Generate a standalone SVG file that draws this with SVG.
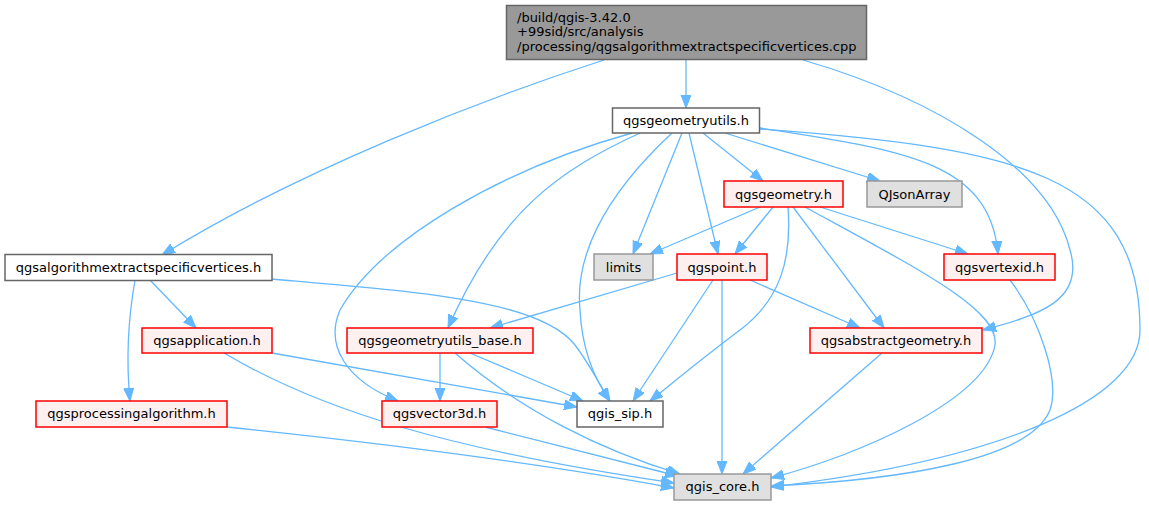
<svg xmlns="http://www.w3.org/2000/svg" width="1149" height="505" viewBox="0 0 1149 505">
<defs>
<marker id="ah" markerUnits="userSpaceOnUse" markerWidth="14" markerHeight="11" refX="13" refY="5" orient="auto">
<path d="M0,0 L13,5 L0,10 z" fill="#63b8ff" stroke="#63b8ff" stroke-width="1"/>
</marker>
<style>
text{font-family:"DejaVu Sans","Liberation Sans",sans-serif;font-size:13px;fill:#000}
.c text{text-anchor:middle}
.w rect{fill:#ffffff;stroke:#666666;stroke-width:1.5}
.r rect{fill:#fff0f0;stroke:#ff0000;stroke-width:1.5}
.g rect{fill:#e0e0e0;stroke:#999999;stroke-width:1.5}
.top rect{fill:#999999;stroke:#666666;stroke-width:1.5}
#edges path{fill:none;stroke:#63b8ff;stroke-width:1.3;marker-end:url(#ah)}
</style>
</defs>
<rect width="1149" height="505" fill="#ffffff"/>
<g id="edges">
<path d="M686,60 L686,108"/>
<path d="M604,60 C480,100 300,170 162,255"/>
<path d="M803,60 C940,100 1050,170 1070,250 C1085,300 1040,315 983,330"/>
<path d="M703,133 L763,181"/>
<path d="M725,133 L880,181"/>
<path d="M760,128 C900,150 990,160 998,254"/>
<path d="M760,129 C1020,148 1140,175 1140,330 C1140,400 1000,460 771,487"/>
<path d="M689,133 L718,254"/>
<path d="M682,133 L633,254"/>
<path d="M672,133 C600,200 575,260 580,310 C582,350 595,380 610,401"/>
<path d="M640,133 C560,170 500,210 448,328"/>
<path d="M632,133 C500,170 380,240 340,310 C325,345 345,380 398,401"/>
<path d="M150,280 L196,328"/>
<path d="M135,280 C128,320 126,360 130,401"/>
<path d="M272,279 C420,292 540,300 575,345 C590,365 600,385 610,401"/>
<path d="M272,353 L577,407"/>
<path d="M224,353 C320,410 450,450 674,483"/>
<path d="M227,427 C400,445 550,465 674,488"/>
<path d="M440,353 L440,401"/>
<path d="M470,353 L583,401"/>
<path d="M455,353 C520,410 600,450 680,474"/>
<path d="M485,427 L678,476"/>
<path d="M677,273 L490,328"/>
<path d="M713,280 L633,401"/>
<path d="M722,280 L722,474"/>
<path d="M750,280 L860,328"/>
<path d="M760,207 L650,254"/>
<path d="M773,207 L735,254"/>
<path d="M788,207 C792,260 780,300 740,330 C700,360 670,385 650,401"/>
<path d="M793,207 L884,328"/>
<path d="M805,207 C920,270 1000,310 995,345 C985,400 860,455 771,478"/>
<path d="M820,207 L968,254"/>
<path d="M1010,280 C1040,320 1060,380 1050,410 C1030,460 900,480 771,486"/>
<path d="M882,353 L743,474"/>
</g>
<g id="n_cpp" class="top"><rect x="506.5" y="5.5" width="360" height="54"/>
<text x="517" y="21.5">/build/qgis-3.42.0</text>
<text x="517" y="36">+99sid/src/analysis</text>
<text x="517" y="50.5">/processing/qgsalgorithmextractspecificvertices.cpp</text></g>
<g id="n_geometryutils" class="w c"><rect x="612.5" y="108" width="147" height="25"/><text x="686" y="125">qgsgeometryutils.h</text></g>
<g id="n_algorithm" class="w c"><rect x="5" y="254.5" width="267" height="26"/><text x="138.5" y="272">qgsalgorithmextractspecificvertices.h</text></g>
<g id="n_application" class="r c"><rect x="142" y="328" width="130" height="25"/><text x="207" y="345">qgsapplication.h</text></g>
<g id="n_geometryutils_base" class="r c"><rect x="347" y="328" width="186" height="25"/><text x="440" y="345">qgsgeometryutils_base.h</text></g>
<g id="n_processingalgorithm" class="r c"><rect x="36" y="401" width="191" height="26"/><text x="131.5" y="418">qgsprocessingalgorithm.h</text></g>
<g id="n_vector3d" class="r c"><rect x="382" y="401" width="115" height="26"/><text x="439.5" y="418">qgsvector3d.h</text></g>
<g id="n_sip" class="w c"><rect x="577" y="401" width="86" height="26"/><text x="620" y="418">qgis_sip.h</text></g>
<g id="n_core" class="g c"><rect x="674" y="474" width="97" height="26"/><text x="722.5" y="491">qgis_core.h</text></g>
<g id="n_limits" class="g c"><rect x="594" y="254" width="59" height="26"/><text x="623.5" y="272">limits</text></g>
<g id="n_point" class="r c"><rect x="677" y="254" width="90" height="26"/><text x="722" y="272">qgspoint.h</text></g>
<g id="n_geometry" class="r c"><rect x="724" y="181" width="119" height="26"/><text x="783.5" y="199">qgsgeometry.h</text></g>
<g id="n_qjsonarray" class="g c"><rect x="867" y="181" width="95" height="26"/><text x="914.5" y="199">QJsonArray</text></g>
<g id="n_vertexid" class="r c"><rect x="944" y="254" width="111" height="26"/><text x="999.5" y="272">qgsvertexid.h</text></g>
<g id="n_abstractgeometry" class="r c"><rect x="810" y="328" width="172" height="25"/><text x="896" y="345">qgsabstractgeometry.h</text></g>
</svg>
